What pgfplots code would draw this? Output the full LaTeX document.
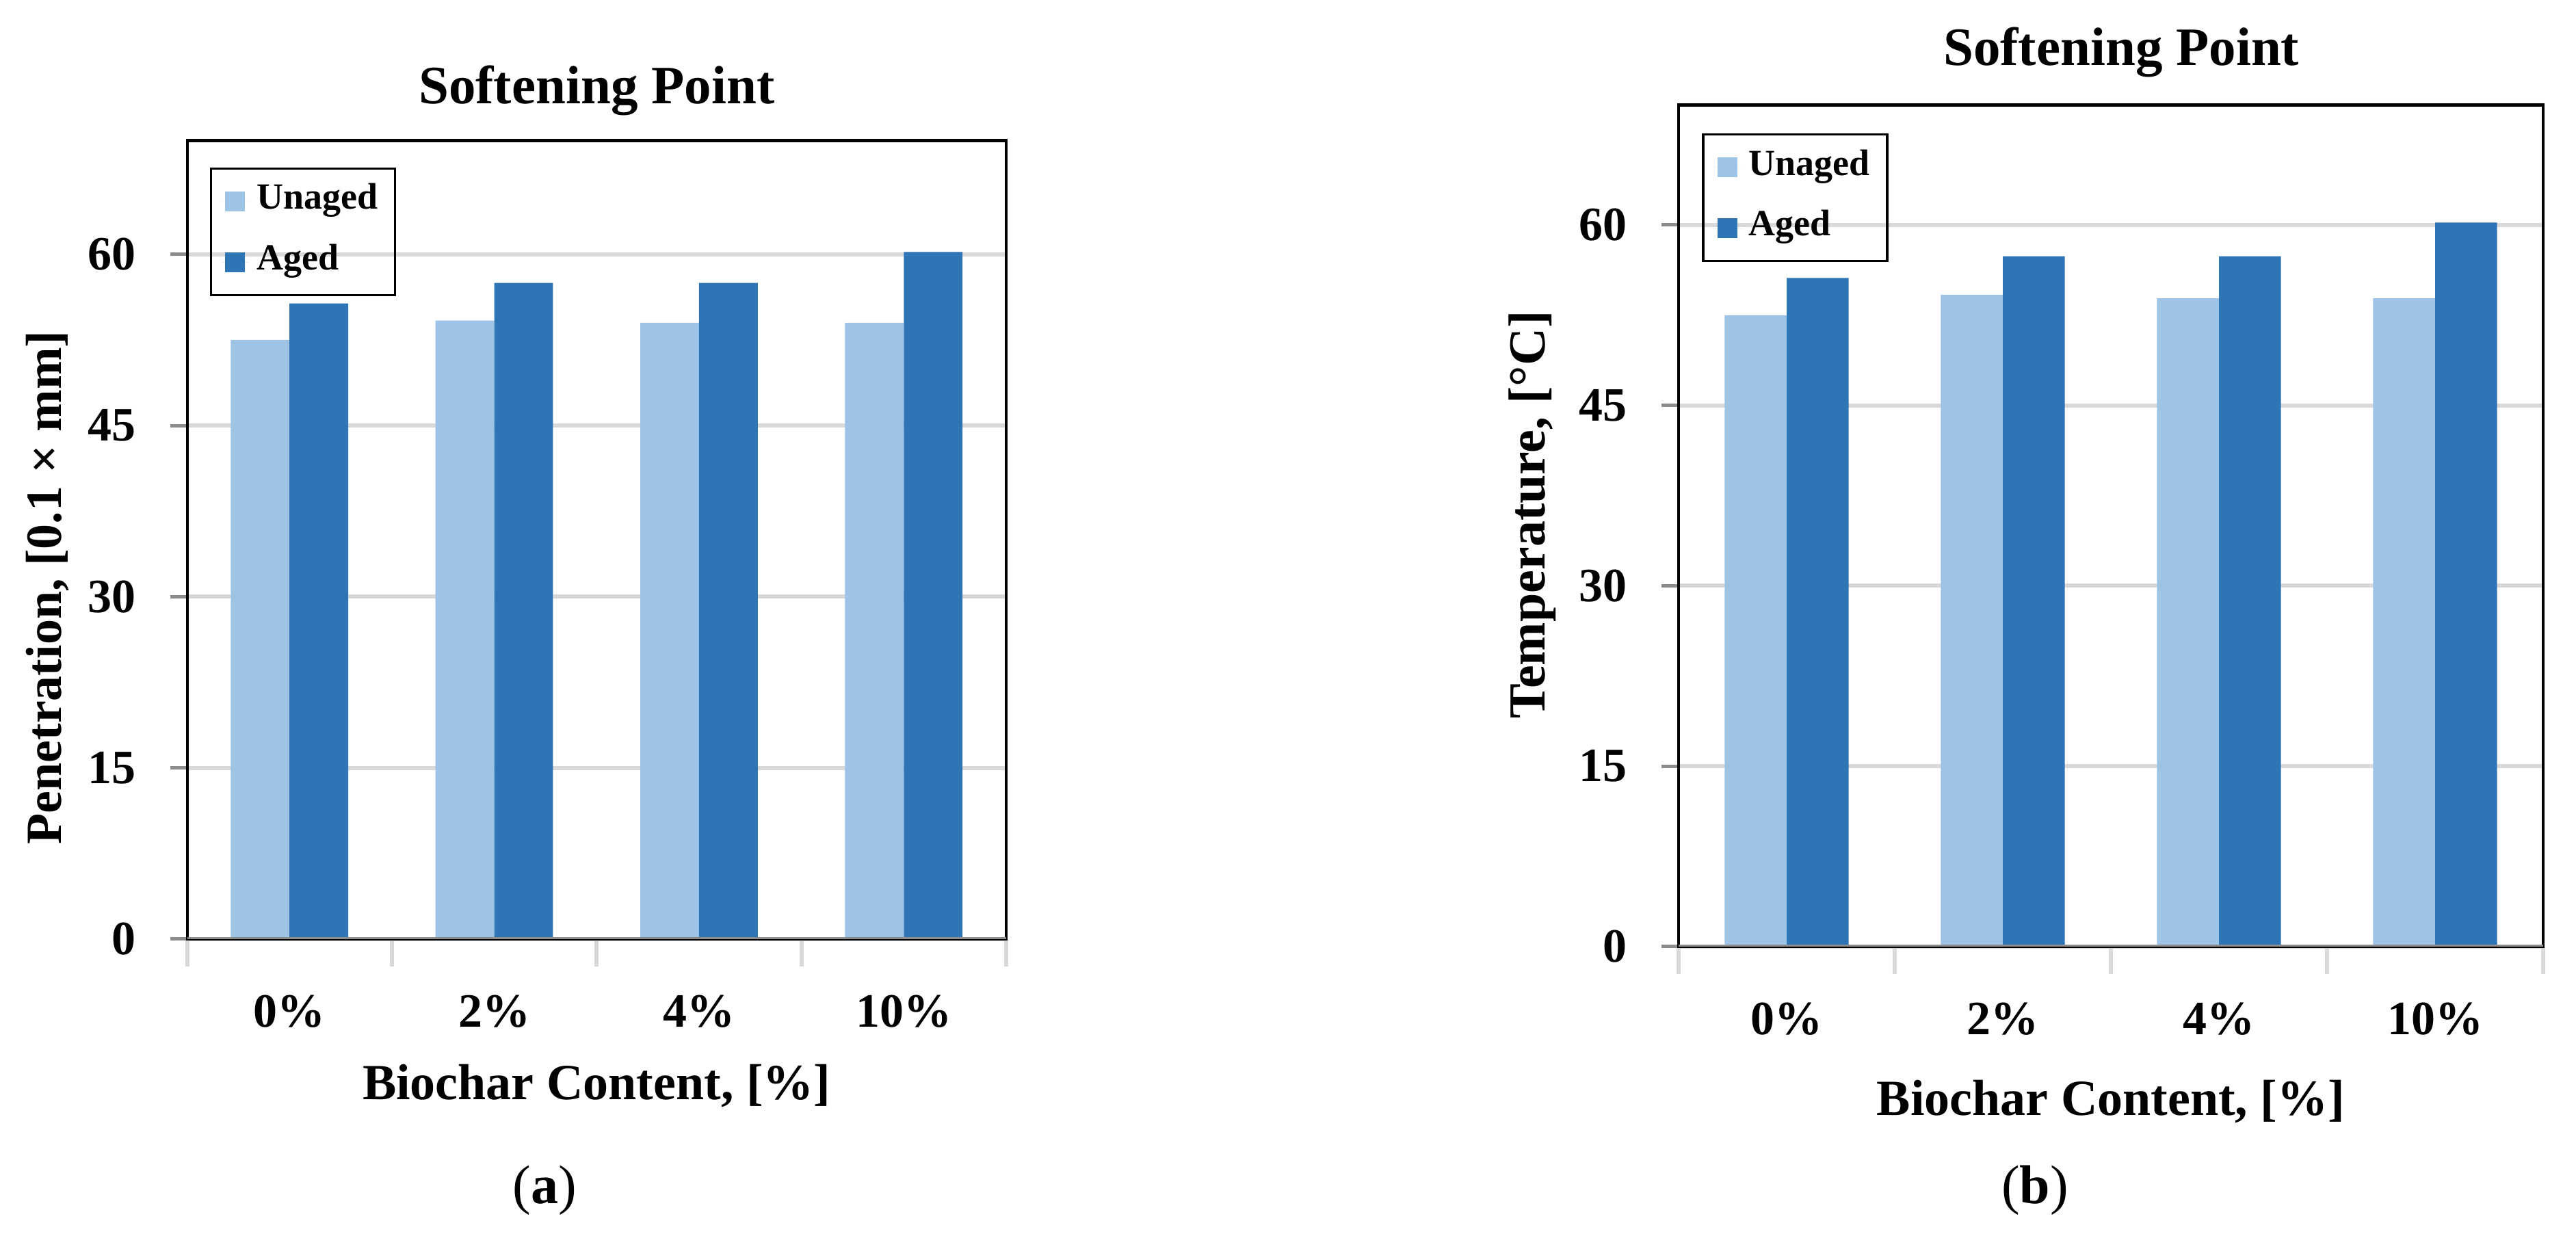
\documentclass[border=0pt]{standalone}
\usepackage{fontspec}
\setmainfont{Liberation Serif}
\usepackage{pgfplots}
\pgfplotsset{compat=1.18}

\definecolor{unaged}{RGB}{157,195,230}
\definecolor{aged}{RGB}{46,117,182}
\definecolor{gridgray}{RGB}{217,217,217}
\definecolor{tickgray}{RGB}{140,140,140}

\pgfplotsset{
  softening/.style={
    scale only axis,
    anchor=south west,
    xmin=-0.5, xmax=3.5,
    ymin=0, ymax=70,
    xtick={0,1,2,3},
    xticklabels={0\%,2\%,4\%,10\%},
    minor xtick={-0.5,0.5,1.5,2.5,3.5},
    ytick={0,15,30,45,60},
    ymajorgrids,
    major grid style={gridgray, line width=0.6pt},
    tick align=outside,
    tick pos=left,
    major tick length=2.5pt,
    minor tick length=4pt,
    major x tick style={draw=none},
    minor x tick style={gridgray, line width=0.6pt},
    y tick style={tickgray, line width=0.5pt},
    axis line style={black, line width=0.4pt},
    /pgf/number format/assume math mode=true,
    ticklabel style={font=\fontsize{7}{8}\selectfont\bfseries},
    xticklabel style={yshift=-2.2pt},
    yticklabel style={xshift=-1.5pt},
    every axis title shift=0pt,
    title style={font=\fontsize{7.9}{9}\selectfont\bfseries, anchor=center, yshift=0pt},
    xlabel style={font=\fontsize{7.4}{9}\selectfont\bfseries, anchor=center},
    ylabel style={anchor=center},
    legend cell align=left,
    legend image code/.code={
      \path (0pt,0pt) -- (4.2pt,0pt);
      \fill[##1] (0.6pt,-1.45pt) rectangle (3.5pt,1.45pt);
    },
    legend style={
      anchor=north west,
      draw=black, line width=0.35pt, fill=none,
      font=\fontsize{5.4}{6}\selectfont\bfseries,
      row sep=1.6pt,
      inner xsep=1.5pt, inner ysep=1.2pt,
      nodes={inner sep=1pt},
    },
  },
}

\begin{document}
\begin{tikzpicture}
\useasboundingbox (0,0) rectangle (376.6pt,180.7pt);

% (a) penetration
\begin{axis}[
  softening,
  at={(27.35pt,43.4pt)},
  width=119.75pt, height=116.8pt,
  title={Softening Point},
  title style={at={(axis description cs:0.5,1.0625)}},
  xlabel={Biochar Content, [\%]},
  xlabel style={at={(axis description cs:0.5,-0.184)}},
  ylabel={Penetration, [0.1 × mm]},
  ylabel style={at={(axis description cs:-0.170,0.44)}, font=\fontsize{7.4}{9}\selectfont\bfseries},
  legend style={at={(axis description cs:0.0276,0.966)}},
]
\addplot[ybar, bar width=0.287, bar shift=-0.1435, fill=unaged, draw=none]
  coordinates {(0,52.5) (1,54.2) (2,54.0) (3,54.0)};
\addlegendentry{Unaged}
\addplot[ybar, bar width=0.287, bar shift=0.1435, fill=aged, draw=none]
  coordinates {(0,55.7) (1,57.5) (2,57.5) (3,60.2)};
\addlegendentry{Aged}
\draw[black, line width=0.6pt] (rel axis cs:0,1) -- (rel axis cs:1,1);
\draw[tickgray, line width=0.5pt] (rel axis cs:0,0) -- (rel axis cs:1,0);
\end{axis}

% (b) temperature
\begin{axis}[
  softening,
  at={(245.4pt,42.3pt)},
  width=126.4pt, height=123.1pt,
  title={Softening Point},
  title style={at={(axis description cs:0.512,1.0625)}},
  xlabel={Biochar Content, [\%]},
  xlabel style={at={(axis description cs:0.5,-0.184)}},
  ylabel={Temperature, [°C]},
  ylabel style={at={(axis description cs:-0.169,0.513)}, font=\fontsize{7.6}{9}\selectfont\bfseries},
  legend style={at={(axis description cs:0.027,0.966)}},
]
\addplot[ybar, bar width=0.287, bar shift=-0.1435, fill=unaged, draw=none]
  coordinates {(0,52.5) (1,54.2) (2,53.9) (3,53.9)};
\addlegendentry{Unaged}
\addplot[ybar, bar width=0.287, bar shift=0.1435, fill=aged, draw=none]
  coordinates {(0,55.6) (1,57.4) (2,57.4) (3,60.2)};
\addlegendentry{Aged}
\draw[black, line width=0.6pt] (rel axis cs:0,1) -- (rel axis cs:1,1);
\draw[tickgray, line width=0.5pt] (rel axis cs:0,0) -- (rel axis cs:1,0);
\end{axis}

\node[font=\fontsize{8}{9}\selectfont] at (79.6pt,6.7pt) {(\textbf{a})};
\node[font=\fontsize{8}{9}\selectfont] at (297.5pt,6.7pt) {(\textbf{b})};
\end{tikzpicture}
\end{document}
